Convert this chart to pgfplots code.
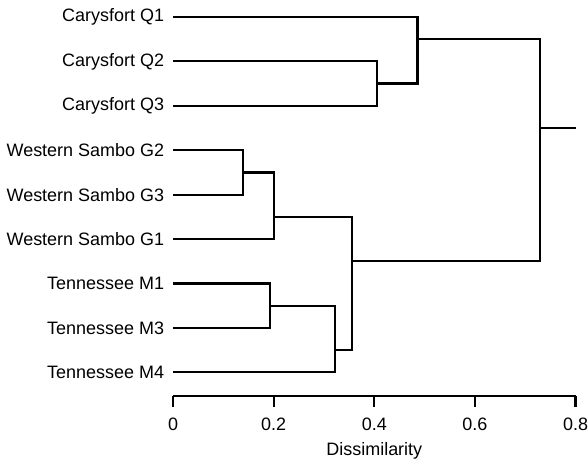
\documentclass[border=0pt]{standalone}
\usepackage{pgfplots}
\pgfplotsset{compat=1.18}
\usepackage{fontspec}
\setmainfont{Liberation Sans}
\begin{document}
\begin{tikzpicture}
\begin{axis}[
  x=252bp, y=22.25bp,
  xmin=0, xmax=0.8, ymin=-9.54, ymax=-0.618,
  enlargelimits=false, clip=false,
  axis x line*=bottom, axis y line*=left,
  y axis line style={draw=none},
  ytick style={draw=none},
  x axis line style={line width=1.1bp},
  xtick={0,0.2,0.4,0.6,0.8},
  xticklabels={0,0.2,0.4,0.6,0.8},
  xtick style={line width=1.1bp, black},
  xtick align=outside,
  major tick length=5.5bp,
  ytick={-1,-2,-3,-4,-5,-6,-7,-8,-9},
  yticklabels={Carysfort Q1,Carysfort Q2,Carysfort Q3,Western Sambo G2,Western Sambo G3,Western Sambo G1,Tennessee M1,Tennessee M3,Tennessee M4},
  every tick label/.append style={font=\fontsize{9bp}{11bp}\selectfont},
  xticklabel style={inner sep=0pt, yshift=-5bp},
  yticklabel style={xshift=-1bp},
  xlabel={Dissimilarity},
  label style={font=\fontsize{9bp}{11bp}\selectfont},
  xlabel style={yshift=-2.5bp},
  cycle list={{black,solid,mark=none}},
  every axis plot/.append style={black, solid, mark=none, line width=1.1bp, line join=miter},
]
% Carysfort cluster
\addplot coordinates {(0,-2) (0.405,-2) (0.405,-3) (0,-3)};
\addplot coordinates {(0,-1) (0.486,-1) (0.486,-2.5) (0.405,-2.5)};
% Western Sambo cluster
\addplot coordinates {(0,-4) (0.139,-4) (0.139,-5) (0,-5)};
\addplot coordinates {(0.139,-4.5) (0.200,-4.5) (0.200,-6) (0,-6)};
% Tennessee cluster
\addplot coordinates {(0,-7) (0.192,-7) (0.192,-8) (0,-8)};
\addplot coordinates {(0.192,-7.5) (0.322,-7.5) (0.322,-9) (0,-9)};
% W. Sambo + Tennessee
\addplot coordinates {(0.200,-5.5) (0.356,-5.5) (0.356,-8.5) (0.322,-8.5)};
% Root
\addplot coordinates {(0.486,-1.5) (0.730,-1.5) (0.730,-6.5) (0.356,-6.5)};
\addplot coordinates {(0.730,-3.5) (0.8,-3.5)};
\end{axis}
\end{tikzpicture}
\end{document}
